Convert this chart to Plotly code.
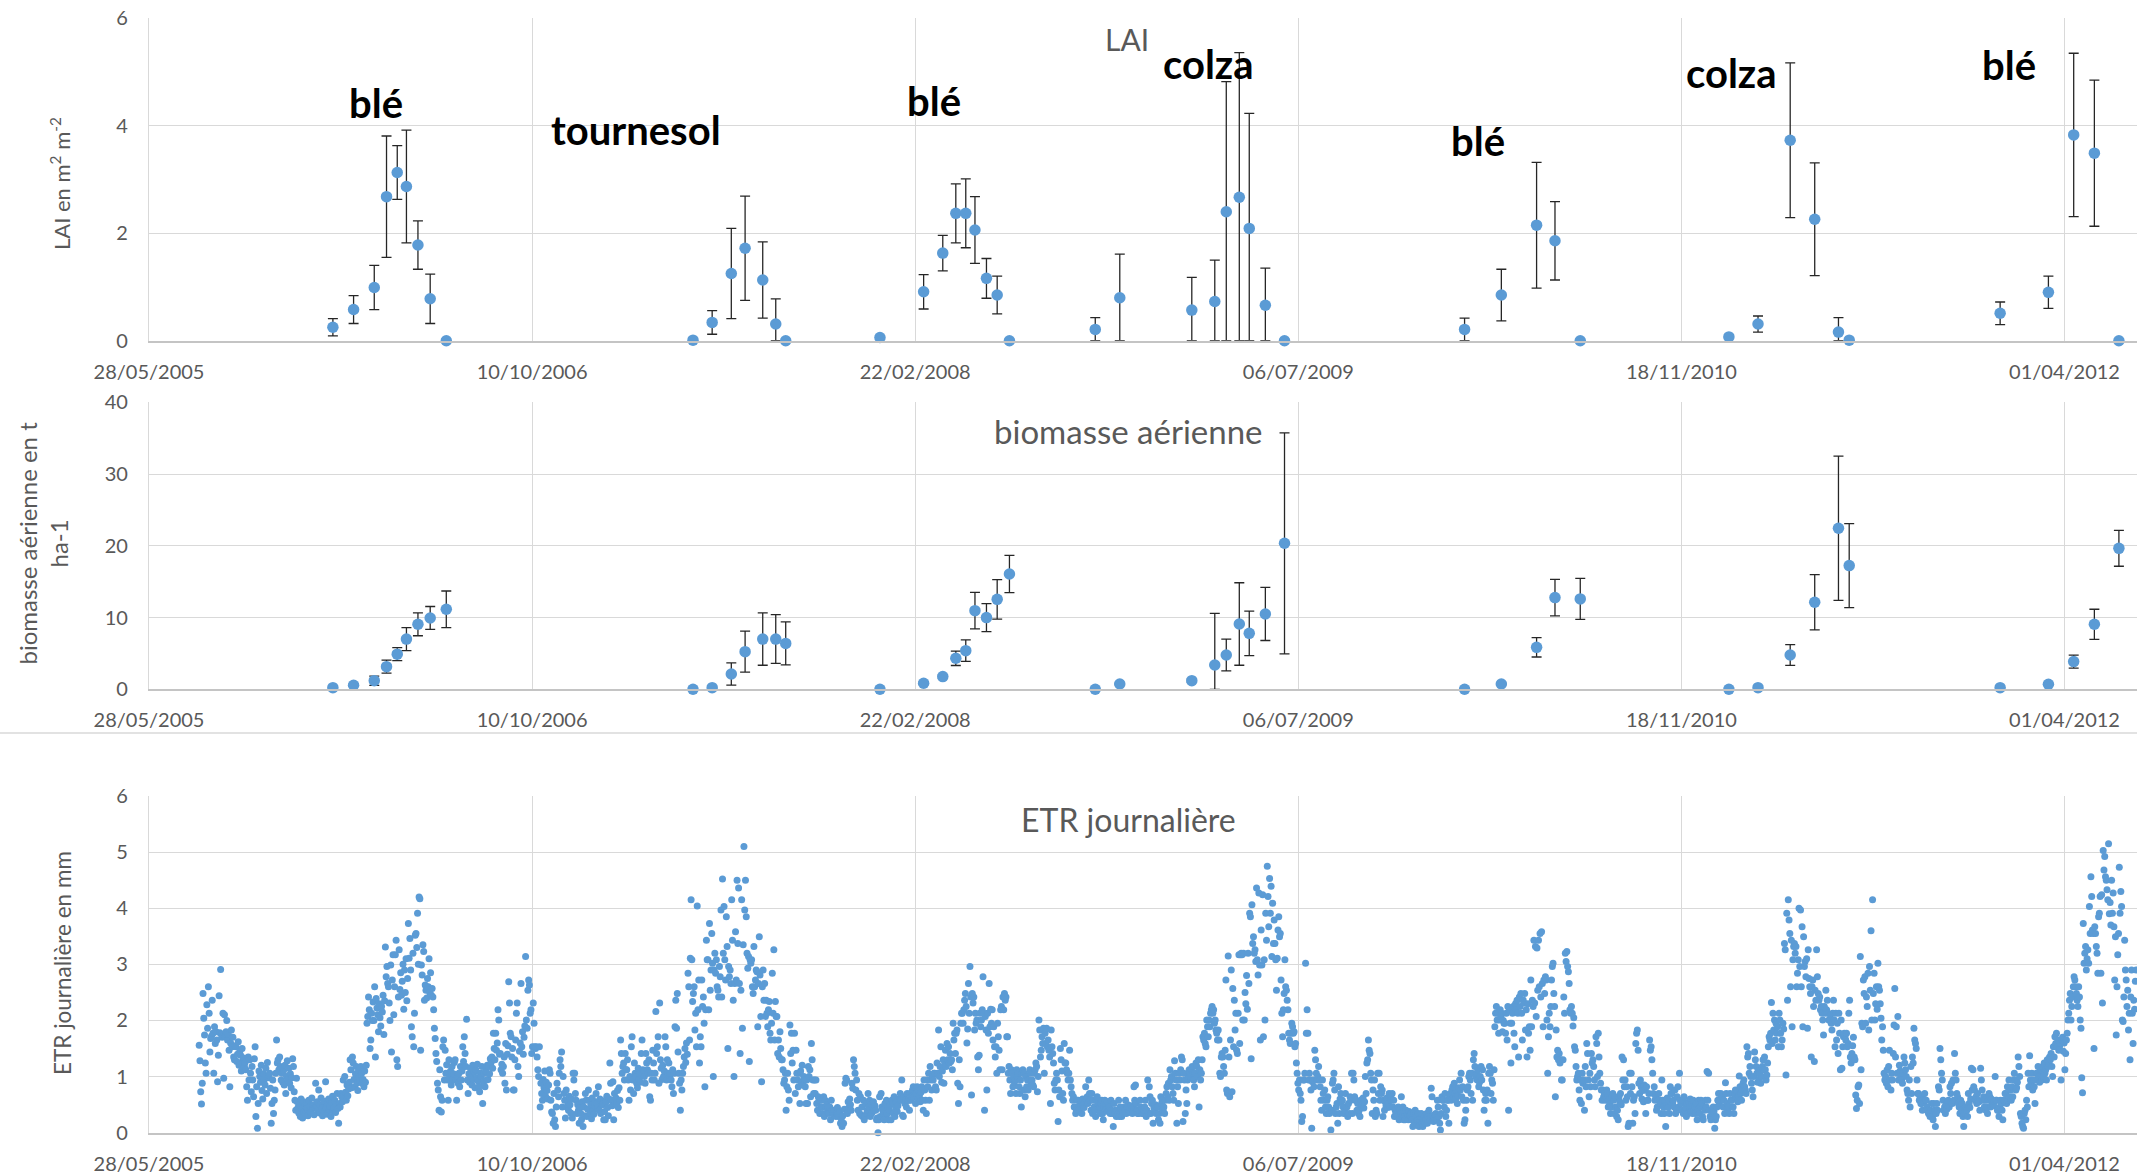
import calendar
import pandas as pd
import plotly.graph_objects as go

# ---------------------------------------------------------------- data
campaign_dates = [
    "2006-01-23", "2006-02-19", "2006-03-18", "2006-04-03", "2006-04-17", "2006-04-29", "2006-05-14", "2006-05-30", "2006-06-20",
    "2007-05-08", "2007-06-02", "2007-06-27", "2007-07-15", "2007-08-07", "2007-08-24", "2007-09-06",
    "2008-01-07", "2008-03-04", "2008-03-29", "2008-04-15", "2008-04-28", "2008-05-10", "2008-05-25", "2008-06-08", "2008-06-24",
    "2008-10-14", "2008-11-15", "2009-02-17", "2009-03-19", "2009-04-03", "2009-04-20", "2009-05-03", "2009-05-24", "2009-06-18",
    "2010-02-08", "2010-03-28", "2010-05-13", "2010-06-06", "2010-07-09",
    "2011-01-19", "2011-02-26", "2011-04-09", "2011-05-11", "2011-06-11", "2011-06-25",
    "2012-01-08", "2012-03-11", "2012-04-13", "2012-05-10", "2012-06-11",
]
lai_values = [0.25, 0.58, 0.99, 2.68, 3.13, 2.87, 1.78, 0.78, 0.0,
              0.01, 0.34, 1.25, 1.72, 1.13, 0.31, 0.0,
              0.06, 0.91, 1.63, 2.37, 2.37, 2.06, 1.16, 0.85, 0.0,
              0.21, 0.80, 0.57, 0.73, 2.40, 2.67, 2.09, 0.66, 0.0,
              0.21, 0.85, 2.15, 1.86, 0.0,
              0.07, 0.31, 3.73, 2.26, 0.16, 0.01,
              0.51, 0.90, 3.83, 3.49, 0.0]
lai_errors = [0.16, 0.26, 0.41, 1.13, 0.50, 1.05, 0.45, 0.46, 0,
              0, 0.22, 0.84, 0.97, 0.71, 0.47, 0,
              0, 0.32, 0.33, 0.55, 0.64, 0.62, 0.37, 0.35, 0,
              0.22, 0.81, 0.61, 0.77, 2.42, 2.69, 2.14, 0.69, 0,
              0.21, 0.48, 1.17, 0.73, 0,
              0, 0.15, 1.44, 1.05, 0.27, 0,
              0.21, 0.30, 1.52, 1.36, 0]
biomass_values = [0.23, 0.56, 1.20, 3.16, 4.90, 7.00, 9.06, 9.94, 11.15,
                  0.00, 0.23, 2.14, 5.25, 7.00, 7.00, 6.40,
                  0.00, 0.84, 1.77, 4.32, 5.39, 10.96, 9.99, 12.54, 16.07,
                  0.00, 0.74, 1.20, 3.39, 4.78, 9.10, 7.80, 10.50, 20.35,
                  0.00, 0.74, 5.85, 12.78, 12.60,
                  0.00, 0.23, 4.78, 12.13, 22.44, 17.24,
                  0.23, 0.70, 3.86, 9.06, 19.65]
biomass_errors = [0.1, 0.15, 0.65, 0.9, 0.9, 1.6, 1.6, 1.6, 2.55,
                  0, 0.1, 1.55, 2.85, 3.65, 3.4, 3.0,
                  0, 0.2, 0.2, 1.0, 1.5, 2.55, 1.95, 2.75, 2.6,
                  0, 0.1, 0.2, 7.2, 2.2, 5.75, 3.1, 3.7, 15.4,
                  0, 0.1, 1.35, 2.55, 2.85,
                  0, 0, 1.45, 3.85, 10.05, 5.85,
                  0, 0.1, 0.9, 2.1, 2.5]

crop_labels = ["blé", "tournesol", "blé", "colza", "blé", "colza", "blé"]
crop_label_dates = ["2006-03-20", "2007-02-22", "2008-03-18", "2009-03-11", "2010-02-25", "2011-01-23", "2012-01-20"]
crop_label_lai = [4.42, 3.93, 4.47, 5.15, 3.71, 4.98, 5.13]

x_tick_dates = ["2005-05-28", "2006-10-10", "2008-02-22", "2009-07-06", "2010-11-18", "2012-04-01"]
x_tick_labels = ["28/05/2005", "10/10/2006", "22/02/2008", "06/07/2009", "18/11/2010", "01/04/2012"]

# daily ETR (mm), one list per month
etr_2005 = [  # Aug .. Dec
    [1.56,1.28,0.73,0.51,0.88,2.48,2.04,1.74,1.24,1.06,2.28,1.86,2.60,2.13,1.44,1.68,1.72,2.36,1.77,1.06,1.89,1.59,1.80,1.65,0.91,1.38,2.44,1.78,2.91,1.75,1.70],
    [2.13,0.97,2.10,1.71,1.80,2.00,1.65,1.75,1.47,0.82,1.60,1.83,1.53,1.70,1.35,1.30,1.55,1.53,1.27,1.40,1.62,1.20,1.45,1.38,1.10,1.50,1.28,1.33,1.18,1.25],
    [1.12,0.82,0.58,1.35,0.94,1.30,1.06,0.73,1.18,0.94,0.64,1.32,1.53,0.29,0.82,0.08,0.52,1.10,1.00,0.90,1.20,0.75,0.60,1.05,0.95,0.85,1.15,0.70,1.25,0.98,1.02],
    [1.06,0.79,0.17,0.52,0.94,0.34,0.58,0.76,1.06,1.65,1.24,1.30,1.12,1.35,1.18,0.94,1.06,0.90,1.10,0.85,1.20,0.70,1.00,1.28,0.95,1.15,0.88,1.05,0.80,0.98],
    [1.32,1.18,0.73,0.58,0.40,0.97,0.55,0.45,0.35,0.50,0.29,0.60,0.42,0.26,0.55,0.38,0.48,0.33,0.52,0.44,0.30,0.58,0.40,0.47,0.36,0.62,0.43,0.50,0.32,0.45,0.88],
]
etr_2006 = [
    [0.46,0.55,0.40,0.76,0.35,0.50,0.62,0.42,0.30,0.48,0.56,0.38,0.91,0.45,0.33,0.52,0.60,0.41,0.47,0.29,0.54,0.65,0.39,0.44,0.58,0.36,0.50,0.70,0.43,0.17,0.52],
    [0.46,0.70,0.64,0.55,0.94,0.60,1.00,0.72,0.58,0.85,0.66,0.78,0.90,1.30,1.12,0.80,1.35,1.24,0.95,0.82,1.05,1.18,0.88,0.75,1.10,1.00,0.92,1.18],
    [1.06,0.88,0.95,0.82,1.10,0.90,1.20,1.95,2.07,2.42,2.19,1.50,1.65,2.13,2.00,2.33,2.00,2.60,1.35,2.39,2.22,2.10,1.80,2.30,2.05,1.90,2.25,2.15,2.45,1.75,2.35],
    [3.31,2.78,2.96,2.66,2.60,2.31,2.00,2.99,1.44,2.72,3.17,2.10,2.60,3.17,3.43,1.30,1.18,2.42,3.26,2.55,2.85,2.45,2.70,3.00,2.20,2.90,2.50,3.10,2.35,2.75],
    [3.73,3.11,3.46,2.90,1.89,1.71,3.20,1.53,2.13,3.52,3.55,3.30,3.91,3.00,4.20,4.17,1.47,2.99,2.81,3.35,3.23,2.36,2.63,2.54,2.40,2.75,2.60,3.10,2.50,2.85,2.45],
    [2.57,2.42,2.19,1.86,1.68,1.41,1.27,0.88,0.76,0.40,1.12,0.64,0.37,0.58,1.53,1.65,0.94,1.47,1.06,1.21,0.94,0.58,1.30,1.00,1.10,0.85,1.18,0.95,1.05,1.25],
    [1.30,0.94,0.58,1.00,0.88,1.06,0.82,1.18,0.94,1.10,1.53,1.27,1.71,1.41,1.18,2.02,0.94,0.70,1.05,0.90,1.15,1.00,0.85,1.20,0.95,1.08,0.80,1.12,0.98,1.22,0.92],
    [0.82,0.73,1.06,1.00,1.18,0.52,0.90,1.06,0.82,1.10,0.94,1.20,0.95,1.18,1.05,1.32,1.25,1.35,1.15,1.77,1.50,1.30,1.77,1.47,1.60,2.19,2.01,1.40,1.41,1.12,1.22],
    [1.06,1.18,1.35,0.88,1.59,0.76,1.40,1.55,2.69,2.31,1.77,1.71,1.35,1.50,0.76,0.76,1.30,1.65,2.13,2.31,1.18,1.00,1.45,1.60,2.66,1.53,1.80,1.40,1.70,1.90],
    [3.14,2.01,1.86,2.54,2.72,2.63,2.13,2.19,1.41,1.53,2.31,1.95,1.53,1.50,1.53,1.35,1.12,1.00,1.53,0.46,0.88,0.70,0.58,0.95,0.80,1.10,0.65,0.90,0.75,0.60,0.85],
    [1.12,1.06,0.58,0.37,0.34,0.17,0.70,0.23,0.11,0.46,0.88,0.76,0.64,1.06,1.30,1.18,1.44,0.46,1.00,0.70,0.58,0.26,0.76,0.46,0.55,0.40,0.65,0.50,0.35,0.60],
    [0.26,1.06,0.94,1.06,0.70,0.58,0.34,0.50,0.40,0.17,0.45,0.34,0.23,0.55,0.11,0.46,0.30,0.70,0.58,0.29,0.42,0.76,0.58,0.35,0.50,0.25,0.62,0.40,0.33,0.48,0.55],
]
etr_2007 = [
    [0.70,0.52,0.45,0.82,0.40,0.60,0.34,0.58,0.50,0.52,0.23,0.38,0.23,0.55,0.65,0.45,0.30,0.60,1.24,0.88,0.58,0.48,0.91,0.23,0.70,0.52,0.62,0.52,0.75,0.45,0.80],
    [0.58,1.65,1.41,1.06,1.18,1.24,0.94,1.41,1.12,1.12,1.30,0.94,0.58,1.00,0.76,1.53,1.71,0.94,0.70,1.24,1.06,1.00,0.88,0.80,1.15,0.95,1.05,0.90],
    [1.41,1.65,1.12,1.09,1.00,0.88,1.41,1.24,1.12,1.06,1.30,0.64,0.58,1.06,0.94,1.47,1.24,0.94,1.06,2.16,1.41,1.53,1.71,0.88,2.31,1.30,1.15,0.95,1.20,1.00,1.10],
    [1.71,1.53,0.94,1.30,1.06,1.24,1.00,1.06,0.94,0.82,1.12,0.70,1.06,1.89,2.36,1.86,2.48,1.44,1.06,0.88,0.40,0.94,0.76,1.06,1.18,1.35,1.50,1.25,1.60,1.40],
    [2.84,2.60,1.65,3.11,4.15,3.08,2.34,2.48,2.60,1.83,2.13,1.53,4.04,2.19,2.72,1.24,1.71,1.53,2.72,2.25,2.42,1.95,0.82,2.19,3.43,3.08,3.08,2.19,3.73,2.54,2.90],
    [3.55,3.02,1.00,2.90,3.20,2.84,3.08,2.60,2.54,2.42,2.96,2.78,3.97,2.42,4.52,3.20,4.03,3.08,2.72,3.85,3.32,1.50,2.96,2.78,2.90,2.66,4.15,3.43,2.36,1.00],
    [2.66,3.58,2.72,4.50,3.37,4.36,2.66,1.41,2.54,4.15,1.86,3.35,5.10,3.97,4.50,3.85,3.20,2.93,3.14,1.27,3.08,3.02,3.08,2.60,2.48,3.32,2.60,2.72,2.90,2.87,1.89],
    [2.66,3.49,2.81,2.07,0.91,2.60,2.90,2.36,2.66,2.07,2.36,2.13,1.89,2.19,2.34,1.77,1.65,1.95,2.84,2.13,3.26,1.65,2.34,2.07,2.07,1.41,1.65,1.35,1.80,1.50,1.30],
    [1.30,1.12,0.88,0.94,1.06,0.40,0.82,1.06,0.76,0.58,1.92,1.41,1.77,1.24,1.47,0.94,1.77,0.70,1.47,1.06,0.94,0.82,1.06,0.52,1.10,0.90,1.20,0.85,1.00,0.95],
    [0.82,0.52,0.94,0.52,1.18,1.00,1.12,0.64,1.59,1.30,0.94,0.70,0.94,0.70,0.94,0.52,0.40,0.64,0.58,0.34,0.58,0.46,0.46,0.34,0.64,0.29,0.58,0.46,0.50,0.38,0.45],
    [0.34,0.46,0.23,0.58,0.40,0.34,0.40,0.31,0.40,0.29,0.35,0.45,0.34,0.29,0.38,0.17,0.25,0.11,0.30,0.17,0.42,0.88,0.97,0.94,0.34,0.55,0.45,0.60,0.50,0.40],
    [0.88,0.79,1.30,1.18,1.06,0.76,0.94,0.58,0.40,0.70,0.34,0.64,0.31,0.46,0.29,0.58,0.23,0.29,0.52,0.34,0.40,0.70,0.46,0.58,0.29,0.50,0.35,0.45,0.55,0.40,0.48],
]
etr_2008 = [
    [0.40,0.23,0.26,0.00,0.23,0.64,0.29,0.70,0.46,0.40,0.34,0.23,0.52,0.29,0.58,0.34,0.46,0.23,0.40,0.50,0.23,0.58,0.52,0.34,0.64,0.29,0.45,0.55,0.38,0.48,0.60],
    [0.58,0.70,0.58,0.94,0.31,0.29,0.64,0.52,0.58,0.46,0.70,0.58,0.58,0.40,0.70,0.58,0.64,0.76,0.82,0.64,0.70,0.52,0.70,0.82,0.60,0.75,0.66,0.55,0.72],
    [0.82,0.58,0.40,0.94,0.76,0.58,0.34,0.94,0.82,1.06,0.58,1.18,0.94,0.76,1.00,0.94,1.06,1.06,0.82,0.76,1.24,1.06,1.83,1.00,1.18,1.53,0.90,1.10,1.30,0.88,1.20],
    [1.47,1.18,1.59,1.30,1.53,1.24,1.41,1.27,1.30,1.12,1.95,1.65,1.77,1.41,1.77,1.83,0.88,0.52,1.30,0.82,1.95,2.13,2.13,1.95,2.19,2.36,2.48,2.25,1.60,1.85],
    [2.66,2.13,2.96,2.42,0.67,2.48,2.31,2.42,1.83,2.13,1.95,2.01,1.35,1.12,1.38,2.13,1.89,2.01,2.19,2.78,2.13,0.40,2.07,1.83,0.76,2.13,1.77,2.66,1.89,2.20,1.95],
    [2.19,1.65,1.89,1.53,1.35,1.53,1.06,1.95,1.71,1.47,1.12,2.19,2.25,1.12,2.42,2.19,2.48,2.36,2.42,1.71,1.71,1.06,1.18,0.94,0.70,1.12,1.06,0.82,1.00,0.90],
    [0.94,0.70,1.12,1.00,1.06,0.82,0.70,0.94,0.46,1.06,1.12,0.76,1.06,0.64,1.00,0.82,0.94,0.76,0.94,1.12,1.06,0.88,0.94,0.85,0.82,1.06,1.12,1.24,1.18,0.73,1.00],
    [2.01,1.83,1.35,1.47,1.71,1.59,1.86,1.06,1.77,1.59,1.86,1.53,1.65,1.47,1.35,0.52,1.83,1.53,1.41,1.24,0.88,0.76,0.94,1.06,0.94,0.20,0.76,0.64,1.50,1.30,1.10],
    [0.70,0.58,1.59,1.24,1.24,1.12,1.06,0.94,1.06,1.47,0.94,0.82,0.70,0.58,0.64,0.46,0.46,0.34,0.40,0.58,0.58,0.46,0.40,0.52,0.58,0.34,0.60,0.50,0.45,0.55],
    [0.82,0.58,0.64,0.52,0.94,0.70,0.58,0.40,0.70,0.34,0.58,0.46,0.40,0.29,0.58,0.64,0.52,0.40,0.46,0.34,0.52,0.58,0.34,0.23,0.46,0.58,0.50,0.42,0.55,0.38,0.48],
    [0.46,0.34,0.58,0.40,0.34,0.11,0.52,0.34,0.40,0.29,0.40,0.34,0.58,0.29,0.46,0.34,0.29,0.40,0.34,0.46,0.40,0.58,0.34,0.46,0.50,0.38,0.44,0.36,0.48,0.42],
    [0.34,0.46,0.82,0.58,0.85,0.52,0.40,0.34,0.34,0.40,0.58,0.46,0.40,0.34,0.34,0.40,0.46,0.58,0.29,0.40,0.94,0.34,0.82,0.64,0.34,0.52,0.58,0.17,0.45,0.38,0.50],
]
etr_2009 = [
    [0.34,0.46,0.46,0.23,0.34,0.17,0.64,0.52,0.58,0.40,0.46,0.34,0.58,0.70,0.82,0.64,0.88,0.58,1.12,0.94,1.00,0.82,0.70,0.58,1.28,1.06,0.94,0.17,0.82,0.52,1.06],
    [0.94,1.12,1.35,1.30,0.20,1.06,0.94,0.34,0.76,0.52,0.94,1.00,1.12,1.06,1.00,1.12,1.18,1.06,0.94,0.82,1.06,1.24,1.18,1.00,1.30,0.46,1.12,0.94],
    [1.06,1.30,1.71,1.65,1.77,1.59,1.53,2.01,1.89,1.71,2.01,1.89,2.13,2.19,2.25,2.13,2.19,1.95,2.01,1.83,1.77,1.65,1.83,1.65,1.06,1.00,1.35,1.41,1.35,1.18,1.06],
    [1.47,2.72,0.76,0.70,3.15,1.35,0.64,1.65,2.90,0.73,2.57,1.53,2.36,1.83,2.13,1.47,1.41,2.13,3.17,1.59,3.17,3.20,3.17,2.01,3.20,2.01,2.50,2.30,2.80,2.20],
    [3.20,2.66,3.91,3.85,1.32,4.06,3.37,3.49,3.20,3.26,3.05,4.36,3.08,2.81,4.27,2.99,1.65,3.61,2.99,4.24,1.71,3.08,2.01,3.91,3.43,4.75,4.21,3.67,4.53,3.91,4.39],
    [3.14,4.09,3.37,3.79,3.37,3.08,2.54,3.11,3.61,3.85,3.49,3.55,2.72,2.13,1.71,2.19,2.48,3.08,2.60,2.54,2.36,2.19,1.77,1.65,1.59,1.77,1.95,1.89,1.77,1.80],
    [1.53,1.59,1.24,1.06,0.88,0.76,0.94,0.70,0.58,0.20,0.29,0.94,0.94,1.06,3.02,1.77,2.19,1.77,0.94,1.06,0.94,0.76,0.08,0.91,0.94,0.82,1.47,1.30,1.06,0.94,1.00],
    [1.18,0.94,0.82,0.58,0.40,0.94,0.70,0.58,0.76,0.46,0.34,0.58,0.64,0.46,0.34,0.40,0.05,0.40,0.88,0.94,1.06,0.76,0.34,0.46,0.52,0.17,0.82,0.34,0.60,0.70,0.55],
    [0.58,0.46,0.34,0.40,0.70,0.46,0.46,0.29,0.52,0.34,0.64,0.58,1.06,0.34,1.06,0.94,0.64,0.58,0.58,0.40,0.52,0.34,0.40,0.29,0.58,0.46,0.50,0.62,0.44,0.55],
    [1.00,0.70,1.24,1.30,1.65,1.47,1.41,1.06,0.94,0.34,0.76,0.58,0.94,0.29,0.40,0.34,1.06,0.70,1.06,0.58,0.82,0.70,0.76,0.29,0.58,0.40,0.55,0.48,0.62,0.45,0.52],
    [0.70,0.46,0.64,0.58,0.70,0.46,0.58,0.29,0.40,0.34,0.34,0.29,0.46,0.23,0.40,0.34,0.64,0.29,0.46,0.23,0.29,0.23,0.40,0.31,0.34,0.23,0.38,0.30,0.27,0.35],
    [0.23,0.11,0.34,0.17,0.40,0.29,0.17,0.23,0.34,0.11,0.23,0.29,0.34,0.17,0.11,0.23,0.29,0.17,0.23,0.34,0.17,0.29,0.40,0.23,0.29,0.79,0.64,0.30,0.20,0.26,0.33],
]
etr_2010 = [
    [0.34,0.23,0.58,0.46,0.29,0.17,0.05,0.34,0.64,0.58,0.58,0.46,0.70,0.29,0.40,0.58,0.58,0.17,0.64,0.70,0.58,0.76,0.82,0.64,0.88,0.70,0.60,0.75,0.52,0.66,0.80],
    [0.94,0.76,1.06,0.64,0.82,0.58,0.17,0.23,0.40,0.58,0.76,0.82,1.00,1.06,0.94,0.70,1.06,0.58,1.30,1.41,1.18,1.00,1.06,0.94,1.12,0.82,0.90,1.00],
    [1.18,0.94,1.12,0.76,0.40,0.58,0.70,0.58,0.76,0.17,1.06,1.18,1.06,0.70,0.94,0.88,0.58,1.12,1.89,2.13,2.25,2.01,2.13,1.77,2.01,2.19,2.07,2.13,1.80,2.00,1.95],
    [1.95,1.77,2.13,1.65,2.25,0.40,2.19,1.95,1.24,1.95,2.13,2.25,1.77,1.53,2.30,2.19,2.36,2.13,1.35,2.42,2.25,2.48,2.13,1.65,2.36,2.31,2.48,1.83,2.19,1.35],
    [2.30,1.77,1.89,1.47,2.72,1.89,2.36,2.25,3.43,2.31,3.32,2.07,3.29,2.54,3.43,2.60,3.55,2.42,3.58,2.66,1.89,2.72,2.48,2.78,2.72,2.01,1.06,1.71,2.13,1.89,2.25],
    [2.72,2.96,3.02,2.48,2.25,0.64,1.83,1.35,1.47,1.30,1.41,1.24,1.30,0.94,0.94,1.30,2.42,2.13,3.20,3.05,3.23,2.96,2.87,2.66,2.19,2.13,2.25,2.13,1.90,2.05],
    [1.53,1.47,1.18,0.94,1.00,1.06,0.76,0.58,0.94,0.52,1.06,0.88,0.94,0.40,1.18,0.82,1.59,1.41,0.94,0.64,1.06,0.82,1.41,1.24,1.30,1.18,0.94,0.82,1.71,1.59,1.00],
    [1.77,1.35,1.06,0.88,0.76,0.58,0.76,0.64,0.70,0.58,0.64,0.76,0.70,0.46,0.58,0.52,0.34,0.46,0.64,0.70,0.58,0.34,0.64,0.46,0.29,0.40,0.23,0.64,0.55,0.70,0.50],
    [1.35,0.94,1.30,0.82,0.94,0.58,0.82,0.64,0.11,0.17,1.06,0.70,1.06,0.82,0.17,0.58,0.64,0.34,1.59,1.77,1.83,1.47,0.88,0.70,0.94,0.82,0.60,0.75,0.55,0.85],
    [0.76,0.34,0.82,0.58,0.58,0.70,1.65,1.47,1.53,1.30,1.06,0.70,0.82,0.58,0.64,0.40,0.46,0.58,0.70,0.58,0.52,0.34,0.94,0.58,0.46,0.34,0.58,0.11,0.50,0.62,0.45],
    [0.58,0.34,0.82,0.70,0.70,0.52,0.58,0.46,0.76,0.34,0.40,0.64,0.82,0.46,1.06,0.58,0.52,0.40,0.58,0.34,0.64,0.40,0.46,0.29,0.52,0.34,0.55,0.45,0.60,0.38],
    [0.52,0.34,0.58,0.40,0.46,0.34,0.52,0.23,0.40,0.58,0.34,0.46,0.58,0.52,0.29,0.23,0.46,0.40,0.58,0.46,1.09,0.58,1.06,0.40,0.29,0.23,0.40,0.34,0.46,0.38,0.08],
]
etr_2011 = [
    [0.23,0.29,0.46,0.58,0.70,0.52,0.58,0.70,0.64,0.64,0.46,0.58,0.34,0.89,0.70,0.52,0.40,0.46,0.34,0.70,0.58,0.58,0.46,0.46,0.34,0.67,0.76,0.60,0.72,0.55,0.65],
    [1.01,0.82,0.70,0.58,0.76,0.88,0.94,0.82,0.76,0.70,1.53,1.35,1.41,1.06,1.18,1.00,0.88,0.76,0.64,1.00,1.44,1.30,1.18,1.06,0.90,1.10,0.95,1.05],
    [0.88,1.00,1.18,1.30,1.12,1.35,1.12,0.94,1.03,1.24,1.53,1.71,1.65,1.77,2.32,1.59,2.13,1.83,2.01,1.65,1.95,1.77,1.89,1.53,2.13,2.01,1.77,1.53,1.65,1.95,1.85],
    [3.37,3.26,1.03,3.91,2.36,4.15,3.79,3.55,2.60,3.43,1.89,3.08,3.32,3.37,3.20,3.32,2.60,2.84,3.08,4.00,2.96,3.97,2.60,3.67,1.89,3.49,2.96,3.05,2.78,3.10],
    [1.86,3.26,2.75,2.60,2.48,1.35,2.60,2.72,2.25,1.27,2.54,2.36,3.26,2.78,2.48,2.36,2.42,2.19,2.25,2.13,2.01,1.74,2.25,2.13,2.54,2.19,2.36,2.13,2.01,2.01,2.10],
    [1.95,1.83,2.13,2.36,2.01,1.53,2.13,1.65,1.95,1.41,2.13,1.77,1.12,2.01,1.15,1.53,1.71,1.77,1.71,1.65,1.77,1.53,1.59,2.13,2.36,1.35,1.24,1.41,1.55,1.70],
    [1.35,1.30,0.67,0.43,0.58,0.82,0.85,0.52,3.14,1.12,1.95,1.89,2.72,2.48,2.78,1.95,2.42,2.25,2.84,1.83,2.96,2.54,3.60,2.01,4.15,2.48,2.84,2.01,2.30,2.60,2.20],
    [3.02,2.60,2.54,2.30,2.04,1.65,1.89,1.47,1.06,0.94,1.00,0.88,1.12,0.82,1.18,1.47,0.94,0.76,1.06,0.94,1.41,1.92,2.57,1.35,1.89,1.06,2.07,0.94,1.20,1.10,1.00],
    [0.94,0.88,1.06,1.35,1.24,1.12,1.00,0.76,0.70,0.58,0.94,0.46,1.18,0.70,1.35,1.24,1.86,1.65,1.59,1.50,0.94,0.70,0.70,0.58,0.64,0.52,0.52,0.40,0.60,0.55],
    [0.70,0.58,0.58,0.46,0.40,0.34,0.34,0.29,0.40,0.52,0.29,0.23,0.52,0.40,0.11,0.34,0.52,0.40,0.82,0.76,1.50,1.30,1.06,0.94,0.58,0.40,0.46,0.34,0.50,0.42,0.55],
    [0.58,0.46,0.82,0.70,0.88,0.52,0.94,0.58,1.41,1.06,0.94,0.70,0.64,0.52,0.46,0.34,0.58,0.40,0.52,0.29,0.11,0.40,0.34,0.46,0.40,0.29,0.70,0.52,0.45,0.60],
    [1.15,0.76,1.12,0.82,0.76,0.58,0.64,0.52,0.70,0.58,0.55,0.40,1.15,0.94,0.76,0.58,0.64,0.46,0.58,0.40,0.46,0.34,0.58,0.70,0.64,0.46,0.60,0.52,0.50,0.48,0.56],
]
etr_2012 = [  # Jan .. 3 Jul
    [1.00,0.58,0.58,0.40,0.40,0.29,0.46,0.58,0.52,0.40,0.23,0.58,0.58,0.70,0.70,0.52,0.82,0.58,0.94,0.64,0.76,0.58,0.82,0.64,0.94,1.06,0.94,0.76,0.80,0.90,1.35],
    [1.18,1.00,0.34,0.29,0.17,0.11,0.08,0.34,0.40,0.23,0.58,0.46,1.06,0.82,1.37,0.94,0.88,1.06,0.76,0.94,0.82,0.52,0.94,1.06,1.06,1.18,1.00,0.90,1.10],
    [1.12,0.94,1.18,1.00,1.24,1.06,1.12,0.94,1.30,1.18,1.24,1.35,1.30,1.41,1.18,1.00,1.53,1.35,1.71,1.59,1.77,1.53,1.65,1.47,1.53,1.59,0.94,1.65,1.70,1.45,1.60],
    [1.12,1.41,1.65,1.77,2.01,2.13,2.36,2.48,2.01,2.25,2.42,2.60,2.78,2.72,2.60,2.48,2.36,2.25,2.60,2.42,2.01,1.86,0.98,0.71,3.73,3.02,3.20,3.32,2.90,3.10],
    [3.26,3.02,4.03,3.55,4.56,4.21,3.61,3.55,1.50,3.67,3.55,3.32,3.20,2.84,3.85,3.91,4.21,2.84,4.24,2.31,5.03,4.68,4.92,4.56,4.50,4.33,4.15,5.15,3.90,4.10,3.70],
    [4.50,3.91,4.27,3.67,2.72,3.49,1.74,2.60,3.17,3.55,4.73,3.91,4.30,4.03,2.01,1.98,2.42,3.43,2.90,2.72,2.25,2.54,1.83,2.13,1.30,2.42,2.90,2.13,1.59,2.36],
    [2.20,2.70,2.90],
]
etr_series = [(2005, 8, etr_2005), (2006, 1, etr_2006), (2007, 1, etr_2007), (2008, 1, etr_2008),
              (2009, 1, etr_2009), (2010, 1, etr_2010), (2011, 1, etr_2011), (2012, 1, etr_2012)]

# ---------------------------------------------------------------- geometry / style
W, H = 2137, 1176
PLOT_LEFT = 149            # px of 28/05/2005
PX_PER_500D = 383.1
LAI_BOX = (18.3, 340.7)    # top, bottom px
BIO_BOX = (402.3, 689.3)
ETR_BOX = (796.0, 1132.7)
FONT = "Lato"
BLUE = "#5B9BD5"
GRID = "#D9D9D9"
AXIS_LINE = "#C4C4C4"
TICK_COLOR = "#595959"
ERR_COLOR = "#262626"

def yp(py):
    return 1 - py / H

def xp(px):
    return px / W

x_start = pd.Timestamp(x_tick_dates[0])
x_end = x_start + pd.Timedelta(days=(W - PLOT_LEFT) / PX_PER_500D * 500)
x_range = [x_start, x_end]

# ETR positions within each month
etr_x, etr_y = [], []
for year, m0, months in etr_series:
    for i, vals in enumerate(months):
        m = m0 + i
        start = pd.Timestamp(year, m, 1)
        ndays = calendar.monthrange(year, m)[1]
        if i == len(months) - 1 and year == 2012:
            ndays = len(vals)
        step = ndays / len(vals)
        for k, v in enumerate(vals):
            etr_x.append(start + pd.Timedelta(days=(k + 0.5) * step))
            etr_y.append(v)

def err_bars(vals, errs):
    return dict(type="data", symmetric=False, array=errs,
                arrayminus=[min(e, v) for e, v in zip(errs, vals)],
                color=ERR_COLOR, thickness=1.3, width=5, visible=True)

fig = go.Figure()
fig.add_trace(go.Scatter(x=campaign_dates, y=lai_values, mode="markers", xaxis="x", yaxis="y",
                         marker=dict(color=BLUE, size=11.5), cliponaxis=False,
                         error_y=err_bars(lai_values, lai_errors), showlegend=False))
fig.add_trace(go.Scatter(x=campaign_dates, y=biomass_values, mode="markers", xaxis="x2", yaxis="y2",
                         marker=dict(color=BLUE, size=11.5), cliponaxis=False,
                         error_y=err_bars(biomass_values, biomass_errors), showlegend=False))
fig.add_trace(go.Scatter(x=etr_x, y=etr_y, mode="markers", xaxis="x3", yaxis="y3",
                         marker=dict(color=BLUE, size=7), cliponaxis=False, showlegend=False))

tickfont = dict(family=FONT, size=20, color=TICK_COLOR)

def xaxis(anchor):
    return dict(domain=[xp(PLOT_LEFT), 1.0], anchor=anchor, type="date", range=x_range,
                tickmode="array", tickvals=x_tick_dates, ticktext=x_tick_labels,
                showgrid=True, gridcolor=GRID, gridwidth=1.3, showline=True, linecolor=AXIS_LINE,
                linewidth=1.6, zeroline=False, ticks="", ticklabelstandoff=12, tickfont=tickfont,
                automargin=False)

def yaxis(anchor, box, rng, dtick):
    return dict(domain=[yp(box[1]), yp(box[0])], anchor=anchor, range=rng, dtick=dtick, tick0=0,
                showgrid=True, gridcolor=GRID, gridwidth=1.3, showline=True, linecolor=GRID,
                linewidth=1.3, zeroline=False, ticks="", ticklabelstandoff=16, tickfont=tickfont,
                automargin=False)

annotations = []
for txt, d, v in zip(crop_labels, crop_label_dates, crop_label_lai):
    annotations.append(dict(text=txt, x=d, y=v, xref="x", yref="y", showarrow=False,
                            xanchor="center", yanchor="middle",
                            font=dict(family=FONT, size=40, color="black", weight="bold")))
for txt, px, py, size in [("LAI", 1127, 39, 30), ("biomasse aérienne", 1128, 431, 33),
                          ("ETR journalière", 1128, 819, 32)]:
    annotations.append(dict(text=txt, x=xp(px), y=yp(py), xref="paper", yref="paper", showarrow=False,
                            xanchor="center", yanchor="middle",
                            font=dict(family=FONT, size=size, color=TICK_COLOR)))
for txt, px, py, size in [("LAI en m<sup>2</sup> m<sup>-2</sup>", 61, 184, 22),
                          ("biomasse aérienne en t<br>ha-1", 42.5, 543, 24),
                          ("ETR journalière en mm", 62, 963, 22.5)]:
    annotations.append(dict(text=txt, x=xp(px), y=yp(py), xref="paper", yref="paper", showarrow=False,
                            xanchor="center", yanchor="middle", textangle=-90,
                            font=dict(family=FONT, size=size, color=TICK_COLOR)))

fig.update_layout(
    template="none",
    width=W, height=H,
    margin=dict(l=0, r=0, t=0, b=0, pad=0),
    paper_bgcolor="white", plot_bgcolor="white",
    xaxis=xaxis("y"), xaxis2=xaxis("y2"), xaxis3=xaxis("y3"),
    yaxis=yaxis("x", LAI_BOX, [0, 6], 2),
    yaxis2=yaxis("x2", BIO_BOX, [0, 40], 10),
    yaxis3=yaxis("x3", ETR_BOX, [0, 6], 1),
    annotations=annotations,
    shapes=[dict(type="line", xref="paper", yref="paper", x0=0, x1=1, y0=yp(733), y1=yp(733),
                 line=dict(color=GRID, width=1.5))],
    showlegend=False,
)

fig.write_html("out.html", config={"displayModeBar": False},
               post_script="document.body.style.margin='0px';document.body.style.overflow='hidden';")
